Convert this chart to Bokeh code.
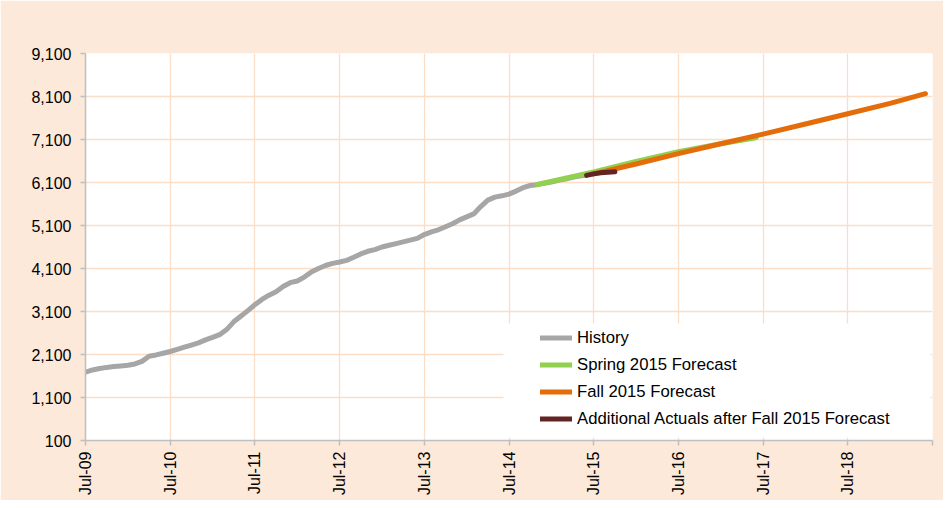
from math import pi
from bokeh.plotting import figure
from bokeh.models import (Range1d, FixedTicker, NumeralTickFormatter, Legend,
                          LegendItem, BoxAnnotation)
from bokeh.embed import file_html
from bokeh.resources import INLINE

# ---------------- data (month index 0 = Jul-09) ----------------
history_values = [
    1690, 1740, 1775, 1800, 1820, 1835, 1850, 1880, 1940, 2060, 2090, 2130,
    2170, 2220, 2270, 2320, 2370, 2440, 2500, 2560, 2680, 2860, 2990, 3120,
    3260, 3380, 3480, 3560, 3680, 3770, 3810, 3900, 4020, 4100, 4170, 4220,
    4250, 4290, 4360, 4440, 4500, 4540, 4600, 4640, 4680, 4720, 4760, 4800,
    4890, 4950, 5000, 5070, 5140, 5230, 5300, 5370, 5540, 5690, 5760, 5790,
    5830, 5900, 5980, 6030, 6050, 6080, 6110, 6150, 6180, 6220, 6250, 6275,
]
history_months = list(range(len(history_values)))

spring_months = [64, 68, 72, 78, 84, 90, 95]
spring_values = [6055, 6200, 6345, 6590, 6815, 7000, 7140]

fall_months = [72, 78, 84, 90, 96, 102, 108, 114, 119]
fall_values = [6300, 6530, 6770, 7000, 7225, 7460, 7700, 7940, 8165]

actual_months = [71, 72, 73, 74, 75]
actual_values = [6265, 6300, 6325, 6340, 6352]

x_tick_months = [0, 12, 24, 36, 48, 60, 72, 84, 96, 108, 120]
x_tick_labels = ["Jul-09", "Jul-10", "Jul-11", "Jul-12", "Jul-13", "Jul-14",
                 "Jul-15", "Jul-16", "Jul-17", "Jul-18", ""]
y_ticks = [100, 1100, 2100, 3100, 4100, 5100, 6100, 7100, 8100, 9100]

series_labels = ["History", "Spring 2015 Forecast", "Fall 2015 Forecast",
                 "Additional Actuals after Fall 2015 Forecast"]

# ---------------- styling ----------------
PEACH = "#FDE9D9"
GRID = "#FCDEC6"
AXIS = "#BFBFBF"
FONT = "Liberation Sans"

p = figure(width=943, height=500, output_backend="svg", toolbar_location=None,
           x_range=Range1d(0, 120), y_range=Range1d(100, 9100),
           min_border_left=85, min_border_right=11, min_border_top=53,
           min_border_bottom=60)
p.border_fill_color = PEACH
p.background_fill_color = "white"
p.outline_line_color = None

p.xgrid.ticker = FixedTicker(ticks=x_tick_months)
p.ygrid.ticker = FixedTicker(ticks=y_ticks)
for g in (p.xgrid, p.ygrid):
    g.grid_line_color = GRID
    g.grid_line_width = 1.3

p.xaxis.ticker = FixedTicker(ticks=x_tick_months)
p.xaxis.major_label_overrides = {m: l for m, l in zip(x_tick_months, x_tick_labels)}
p.xaxis.major_label_orientation = pi / 2
p.yaxis.ticker = FixedTicker(ticks=y_ticks)
p.yaxis.formatter = NumeralTickFormatter(format="0,0")
for ax in (p.xaxis, p.yaxis):
    ax.axis_line_color = AXIS
    ax.axis_line_width = 1.5
    ax.major_tick_line_color = AXIS
    ax.major_tick_line_width = 1.5
    ax.major_tick_out = 5
    ax.major_tick_in = 0
    ax.minor_tick_line_color = None
    ax.major_label_text_font = FONT
    ax.major_label_text_font_size = "16px"
    ax.major_label_text_color = "#000000"
p.yaxis.major_label_standoff = 9
p.xaxis.major_label_standoff = 6

lw = 5
r_hist = p.line(history_months, history_values, line_color="#A6A6A6",
                line_width=lw, line_cap="round", line_join="round")
r_spring = p.line(spring_months, spring_values, line_color="#92D050",
                  line_width=lw, line_cap="round", line_join="round")
r_fall = p.line(fall_months, fall_values, line_color="#E46C0A",
                line_width=lw, line_cap="round", line_join="round")
r_act = p.line(actual_months, actual_values, line_color="#632523",
               line_width=lw, line_cap="round", line_join="round")

# white legend background box (screen units, relative to plot frame)
box = BoxAnnotation(left=418, right=845, bottom=3, top=117,
                    left_units="screen", right_units="screen",
                    bottom_units="screen", top_units="screen",
                    fill_color="white", fill_alpha=1.0, line_color=None)
p.add_layout(box)

legend = Legend(items=[LegendItem(label=l, renderers=[r])
                       for l, r in zip(series_labels,
                                       [r_hist, r_spring, r_fall, r_act])],
                location=(455, 8), padding=0, margin=0, spacing=0,
                glyph_width=32, glyph_height=27, label_height=27,
                label_standoff=5, background_fill_alpha=0,
                border_line_color=None,
                label_text_font=FONT, label_text_font_size="16.7px",
                label_text_color="#000000")
p.add_layout(legend)

open("out.html", "w").write(file_html(p, INLINE))
